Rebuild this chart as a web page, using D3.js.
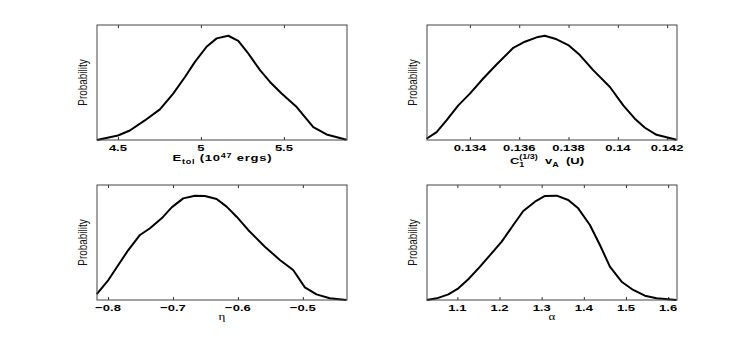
<!DOCTYPE html>
<html lang="en">
  <head>
    <meta charset="UTF-8" />
    <title>Posterior distributions</title>
    <script src="https://cdnjs.cloudflare.com/ajax/libs/d3/7.8.5/d3.min.js"></script>
    <style>
      body { margin: 0; background: #fff; }
      text { font-family: "Liberation Sans", Arial, sans-serif; }
    </style>
  </head>
  <body>
    <div id="viz"></div>
    <script>
      // ---- data (probability scaled so the peak is ~1) ----
      const etotX = [4.374, 4.5, 4.572, 4.662, 4.753, 4.833, 4.904, 4.964, 5.034, 5.095, 5.165,
                     5.225, 5.285, 5.356, 5.416, 5.486, 5.577, 5.677, 5.757, 5.877];
      const etotP = [0.0, 0.043, 0.091, 0.187, 0.293, 0.444, 0.603, 0.747, 0.892, 0.972, 0.997,
                     0.949, 0.828, 0.668, 0.555, 0.444, 0.315, 0.123, 0.053, 0.002];
      const etotTicks = [4.5, 5, 5.5];

      const cvX = [0.13224, 0.13265, 0.13305, 0.13353, 0.134, 0.13454, 0.13508, 0.13576, 0.13623,
                   0.13671, 0.13704, 0.13752, 0.13799, 0.13846, 0.139, 0.13968, 0.14022, 0.14069,
                   0.1411, 0.14157, 0.14238];
      const cvP = [0.012, 0.075, 0.187, 0.331, 0.444, 0.588, 0.722, 0.882, 0.94, 0.982, 0.997,
                   0.963, 0.908, 0.812, 0.668, 0.507, 0.331, 0.204, 0.117, 0.05, 0.002];
      const cvTicks = [0.134, 0.136, 0.138, 0.14, 0.142];

      const etaX = [-0.8174, -0.7995, -0.7842, -0.7688, -0.7508, -0.7354, -0.7174, -0.702, -0.6842,
                    -0.6662, -0.6508, -0.6328, -0.6174, -0.602, -0.5842, -0.5585, -0.5354, -0.5149,
                    -0.4969, -0.479, -0.4585, -0.4328];
      const etaP = [0.057, 0.191, 0.335, 0.478, 0.622, 0.686, 0.781, 0.886, 0.972, 0.998, 0.995,
                    0.966, 0.893, 0.797, 0.67, 0.51, 0.383, 0.287, 0.121, 0.054, 0.016, 0.0];
      const etaTicks = [-0.8, -0.7, -0.6, -0.5];

      const alphaX = [1.0275, 1.0512, 1.0787, 1.1024, 1.126, 1.1538, 1.1775, 1.2052, 1.2327, 1.2564,
                      1.2841, 1.3078, 1.3355, 1.363, 1.3867, 1.4144, 1.4382, 1.4618, 1.4896, 1.5171,
                      1.5448, 1.5725, 1.6199];
      const alphaP = [0.0, 0.016, 0.054, 0.112, 0.198, 0.319, 0.43, 0.558, 0.717, 0.851, 0.94,
                      0.995, 0.998, 0.957, 0.877, 0.717, 0.526, 0.319, 0.175, 0.096, 0.041, 0.016, 0.0];
      const alphaTicks = [1.1, 1.2, 1.3, 1.4, 1.5, 1.6];

      const width = 747, height = 339;
      const squash = 0.75; // the figure was squeezed vertically

      const svg = d3.select("#viz").append("svg")
        .attr("width", width)
        .attr("height", height);

      const panels = [
        { xs: etotX, ps: etotP, ticks: etotTicks, dom: [4.374, 5.88], fmt: d => String(d),
          left: 97, top: 25, label: "etot" },
        { xs: cvX, ps: cvP, ticks: cvTicks, dom: [0.13226, 0.1424], fmt: d => String(d),
          left: 427, top: 25, label: "cv" },
        { xs: etaX, ps: etaP, ticks: etaTicks, dom: [-0.817, -0.432], fmt: d => "\u2212" + String(Math.abs(d)),
          left: 97, top: 185, label: "\u03b7" },
        { xs: alphaX, ps: alphaP, ticks: alphaTicks, dom: [1.028, 1.621], fmt: d => String(d),
          left: 427, top: 185, label: "\u03b1" }
      ];
      const pw = 250, ph = 115;

      panels.forEach(p => {
        const g = svg.append("g").attr("transform", `translate(${p.left}, ${p.top})`);
        const x = d3.scaleLinear().domain(p.dom).range([0, pw]);
        const y = d3.scaleLinear().domain([0, 1.1]).range([ph, 0]);

        // inward ticks top and bottom
        g.append("g")
          .attr("transform", `translate(0, ${ph})`)
          .call(d3.axisBottom(x).tickValues(p.ticks).tickSizeInner(-3).tickSizeOuter(0).tickFormat(""))
          .call(a => a.select(".domain").remove())
          .call(a => a.selectAll("line").attr("stroke", "#333"));
        g.append("g")
          .call(d3.axisTop(x).tickValues(p.ticks).tickSizeInner(-3).tickSizeOuter(0).tickFormat(""))
          .call(a => a.select(".domain").remove())
          .call(a => a.selectAll("line").attr("stroke", "#333"));

        // tick labels
        g.selectAll(".tl")
          .data(p.ticks)
          .join("text")
          .attr("class", "tl")
          .attr("transform", d => `translate(${x(d)}, ${ph + 11}) scale(1, ${squash})`)
          .attr("text-anchor", "middle")
          .attr("font-size", 13)
          .attr("font-weight", "bold")
          .text(p.fmt);

        // curve
        g.append("path")
          .datum(p.xs.map((v, i) => [v, p.ps[i]]))
          .attr("fill", "none")
          .attr("stroke", "#000")
          .attr("stroke-width", 2)
          .attr("stroke-linejoin", "round")
          .attr("d", d3.line().x(d => x(d[0])).y(d => y(d[1])));

        // frame
        g.append("rect")
          .attr("x", 0).attr("y", 0)
          .attr("width", pw).attr("height", ph)
          .attr("fill", "none")
          .attr("stroke", "#444")
          .attr("stroke-width", 1);

        // y label
        g.append("text")
          .attr("transform", `translate(-10, ${ph / 2}) scale(1, 0.83) rotate(-90)`)
          .attr("text-anchor", "middle")
          .attr("font-size", 12)
          .attr("fill", "#111")
          .text("Probability");

        // x label
        const cx = pw / 2;
        if (p.label === "etot") {
          const t = g.append("text")
            .attr("transform", `translate(${cx}, ${ph + 21}) scale(1, ${squash})`)
            .attr("text-anchor", "middle")
            .attr("font-size", 13)
            .attr("font-weight", "bold")
            .attr("textLength", 99)
            .attr("lengthAdjust", "spacing");
          t.append("tspan").text("E");
          t.append("tspan").attr("font-size", 9).attr("dy", 4).text("tol");
          t.append("tspan").attr("dy", -4).text(" (10");
          t.append("tspan").attr("font-size", 9).attr("dy", -4).text("47");
          t.append("tspan").attr("dy", 4).text(" ergs)");
        } else if (p.label === "cv") {
          const t = g.append("text")
            .attr("transform", `translate(${cx - 5}, ${ph + 24}) scale(1, ${squash})`)
            .attr("text-anchor", "middle")
            .attr("font-size", 13)
            .attr("font-weight", "bold")
            .style("white-space", "pre");
          t.append("tspan").text("C");
          t.append("tspan").attr("font-size", 9).attr("dy", 4).text("1");
          t.append("tspan").attr("font-size", 9).attr("dx", -5).attr("dy", -11).text("(1/3)");
          t.append("tspan").attr("dy", 7).text("  v");
          t.append("tspan").attr("font-size", 9).attr("dy", 4).text("A");
          t.append("tspan").attr("dy", -4).text("  (U)");
        } else {
          g.append("text")
            .attr("transform", `translate(${cx}, ${ph + 20}) scale(1, ${squash})`)
            .attr("text-anchor", "middle")
            .attr("font-size", 13)
            .style("font-family", "'Liberation Serif', 'DejaVu Serif', serif")
            .text(p.label);
        }
      });
    </script>
  </body>
</html>
